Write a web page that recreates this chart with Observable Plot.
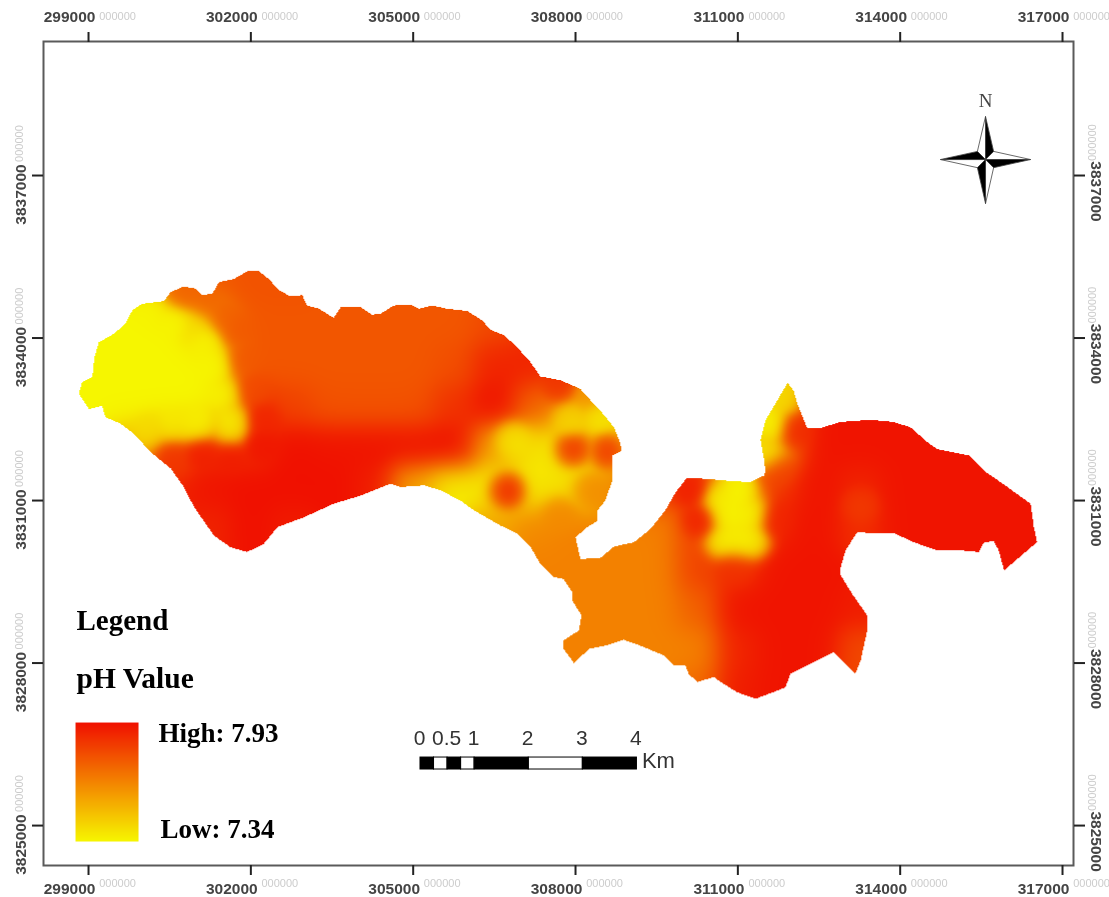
<!DOCTYPE html>
<html>
<head>
<meta charset="utf-8">
<script src="https://cdn.jsdelivr.net/npm/d3@7"></script>
<script src="https://cdn.jsdelivr.net/npm/@observablehq/plot@0.6"></script>
<style>
html,body{margin:0;padding:0;background:#fff}
svg{display:block;filter:blur(0.45px)}
</style>
</head>
<body>
<div id="chart"></div>
<script>
const eastTicks = [299000,302000,305000,308000,311000,314000,317000];
const northTicks = [3825000,3828000,3831000,3834000,3837000];
const eastExtent = [298168,317203];
const northExtent = [3824263,3839474];
const phRange = [7.34,7.93];
const rampColors = ["#f6f600","#f01000"];

// watershed outline: easting, northing (metres)
const outlineEast = [298820,298880,299070,299110,299190,299470,299680,299810,299990,300390,300520,300760,300980,301100,301290,301410,301690,301930,302150,302330,302520,302730,302950,303040,303260,303530,303660,304030,304240,304400,304640,304950,305100,305350,305630,306000,306280,306430,306680,306920,307170,307350,307720,308090,308220,308460,308710,308830,308850,308680,308680,308550,308410,308410,308220,308000,308090,308460,308710,309080,309390,309660,309850,310060,310430,310860,311230,311480,311510,311480,311420,311510,311730,311920,312030,312100,312280,312530,312900,313450,313880,314190,314500,314680,315270,315550,315980,316410,316470,316530,316280,315920,315820,315730,315550,315450,315110,314680,314250,313880,313510,313210,312990,312900,312900,313110,313390,313390,313270,313170,312770,312340,311970,311880,311330,310990,310680,310560,310250,310090,310030,309820,309630,309200,308890,308550,308250,307970,307780,307780,308060,308110,307940,307940,307780,307600,307350,307170,306920,306610,306120,305870,305500,305200,304770,304580,304030,303530,302980,302490,302240,301930,301620,301320,300950,300760,300520,300150,299840,299590,299310,299250,299010];
const outlineNorth = [3832970,3833180,3833280,3833650,3833920,3834080,3834260,3834510,3834630,3834680,3834850,3834950,3834910,3834790,3834820,3835030,3835090,3835230,3835230,3835090,3834880,3834770,3834790,3834600,3834540,3834370,3834570,3834570,3834430,3834450,3834600,3834620,3834540,3834600,3834540,3834500,3834320,3834150,3834050,3833830,3833550,3833290,3833220,3833060,3832910,3832660,3832350,3832050,3831920,3831830,3831370,3831000,3830820,3830630,3830510,3830320,3829920,3829940,3830150,3830230,3830480,3830820,3831150,3831420,3831400,3831360,3831340,3831460,3831550,3831770,3832110,3832480,3832850,3833170,3833030,3832790,3832340,3832340,3832450,3832490,3832450,3832350,3832080,3831950,3831830,3831550,3831250,3830940,3830510,3830230,3830020,3829710,3830080,3830250,3830230,3830050,3830080,3830080,3830230,3830400,3830390,3830420,3830080,3829770,3829620,3829280,3828880,3828600,3828050,3827800,3828200,3827990,3827800,3827550,3827340,3827460,3827650,3827740,3827650,3827800,3827960,3827960,3828140,3828320,3828430,3828320,3828260,3828000,3828260,3828420,3828600,3828880,3829150,3829310,3829550,3829590,3829830,3830140,3830390,3830540,3830820,3831000,3831190,3831280,3831250,3831310,3831090,3830940,3830690,3830510,3830200,3830050,3830140,3830350,3830880,3831250,3831590,3831890,3832230,3832420,3832540,3832750,3832690];

// pH at regular sample sites
const _ = null;
const sampleEast = [299000,299750,300500,301250,302000,302750,303500,304250,305000,305750,306500,307250,308000,308750,309500,310250,311000,311750,312500,313250,314000,314750,315500,316250,317000];
const sampleNorth = [3835000,3834250,3833500,3832750,3832000,3831250,3830500,3829750,3829000,3828250,3827500];
const phRows = [
 [_,_,7.70,7.74,7.76,7.76,_,_,_,_,_,_,_,_,_,_,_,_,_,_,_,_,_,_,_],
 [_,7.34,7.34,7.50,7.75,7.75,7.75,7.75,7.75,7.75,7.78,7.85,_,_,_,_,_,_,_,_,_,_,_,_,_],
 [7.34,7.34,7.34,7.34,7.75,7.75,7.75,7.75,7.75,7.77,7.88,7.88,_,_,_,_,_,_,_,_,_,_,_,_,_],
 [7.34,7.34,7.34,7.34,7.85,7.80,7.76,7.76,7.76,7.84,7.93,7.72,7.55,7.45,_,_,_,7.40,7.92,7.92,7.92,_,_,_,_],
 [_,7.50,7.70,7.85,7.85,7.93,7.92,7.92,7.92,7.93,7.55,7.38,7.40,7.42,_,_,_,7.60,7.92,7.92,7.92,7.92,7.92,_,_],
 [_,_,7.88,7.92,7.93,7.93,7.93,7.90,7.55,7.36,7.38,7.38,7.40,7.64,7.85,7.82,7.36,7.85,7.92,7.88,7.92,7.92,7.92,7.92,_],
 [_,_,_,7.88,7.93,7.90,_,_,_,_,7.55,7.62,7.64,_,7.64,7.80,7.34,7.90,7.92,7.85,7.92,7.92,7.92,7.92,7.92],
 [_,_,_,_,_,_,_,_,_,_,_,7.64,7.64,7.64,7.64,7.80,7.85,7.92,7.92,_,_,_,_,_,_],
 [_,_,_,_,_,_,_,_,_,_,_,_,7.64,7.64,7.64,7.72,7.92,7.92,7.92,7.90,_,_,_,_,_],
 [_,_,_,_,_,_,_,_,_,_,_,_,7.64,7.64,7.64,7.64,7.88,7.92,7.92,7.78,_,_,_,_,_],
 [_,_,_,_,_,_,_,_,_,_,_,_,_,_,_,7.70,7.90,7.92,_,7.80,_,_,_,_,_]
];
// extra readings at local features (spots, yellow strip, zone edges)
const spotEast = [306743,307963,308590,310770,311270,311010,311010,311600,311530,311860,312070,310310,310130,301620,300880,300110,300150,
 301160,301350,301530,301660,301070,300520,300610,300980,
 301720,301850,302030,302220,302180,301620,301070,300550,300790,301160,301480,
 306840,308460,307910,307720,308280,308280,307720,
 310960,311700,311700,313270,
 310720,311270,310640];
const spotNorth = [3831185,3831960,3831920,3830720,3830720,3830170,3831190,3832385,3831830,3832940,3832290,3830630,3831190,3832290,3832385,3832290,3834510,
 3833950,3833490,3832940,3832480,3832385,3832385,3834320,3834230,
 3834140,3833590,3833030,3832480,3832020,3831830,3831890,3831780,3834770,3834600,3834360,
 3832110,3832570,3832480,3833120,3832940,3831190,3830720,
 3829800,3830630,3831550,3830910,
 3830260,3830260,3831000];
const spotPh = [7.93,7.90,7.88,7.34,7.34,7.34,7.34,7.34,7.36,7.42,7.88,7.90,7.90,7.36,7.36,7.40,7.34,
 7.34,7.34,7.34,7.34,7.34,7.36,7.34,7.40,
 7.75,7.75,7.78,7.88,7.92,7.90,7.90,7.85,7.72,7.72,7.74,
 7.38,7.38,7.42,7.85,7.60,7.62,7.62,
 7.85,7.88,7.80,7.82,
 7.34,7.34,7.34];

// scale bar (km along a true map scale)
const barStartEast = 305135;
const barNorth = [3826035,3826256];
const barLabelNorth = 3826616;
const barBlack = [[0,0.25],[0.5,0.75],[1,2],[3,4]];
const barWhite = [[0.25,0.5],[0.75,1],[2,3]];
const barKm = [0,0.5,1,2,3,4];

// colour ramp legend
const rampEast = [298760,299924];
const rampNorth = [3824706,3826902];

// compass: centre and facets as offsets in metres
const compassCentre = [315577,3837295];
const facetsBlack = [
 [[0,0],[0,794],[150,150]],
 [[0,0],[0,-812],[-150,-150]],
 [[0,0],[-832,0],[-150,150]],
 [[0,0],[832,0],[150,-150]]
];
const facetsWhite = [
 [[0,0],[0,794],[-150,150]],
 [[0,0],[0,-812],[150,-150]],
 [[0,0],[-832,0],[-150,-150]],
 [[0,0],[832,0],[150,150]]
];

const outline = outlineEast.map((e,i)=>[e,outlineNorth[i]]);
const samples = [];
phRows.forEach((row,r)=>row.forEach((v,c)=>{ if(v!==null) samples.push([sampleEast[c],sampleNorth[r],v,1,1/(2*330*330)]); }));
spotPh.forEach((v,i)=>samples.push([spotEast[i],spotNorth[i],v,4,1/(2*170*170)]));

function phAt(x,y){
  if(!d3.polygonContains(outline,[x,y])) return NaN;
  let sw=0,sv=0;
  for(const s of samples){
    const dx=x-s[0],dy=y-s[1];
    const w=s[3]*Math.exp(-(dx*dx+dy*dy)*s[4]);
    sw+=w; sv+=w*s[2];
  }
  return sw>0?sv/sw:phRange[1];
}
const facetMark=(list,color)=>Plot.line(
  list.flatMap((f,k)=>[...f,f[0]].map(p=>({e:compassCentre[0]+p[0],n:compassCentre[1]+p[1],k}))),
  {x:"e",y:"n",z:"k",fill:color,stroke:"#444",strokeWidth:0.8,curve:"linear"});

const serif="Liberation Serif";
const sans="Liberation Sans";
const mid={textAnchor:"middle",lineAnchor:"middle"};
const startMid={textAnchor:"start",lineAnchor:"middle"};
const tickLabel={fontSize:15.5,fontWeight:"bold",fill:"#444",...mid};
const faintLabel={fontSize:11,fill:"#ccc",...mid};
const legendLabel={frameAnchor:"top-left",fontFamily:serif,fontWeight:"bold",fontSize:27,fill:"#000",...startMid};
const chart=Plot.plot({
  width:1109,height:897,
  marginTop:41,marginBottom:32,marginLeft:43,marginRight:36,
  style:{background:"#fff",fontFamily:sans},
  x:{domain:eastExtent,axis:null},
  y:{domain:northExtent,axis:null},
  color:{type:"linear",domain:phRange,range:rampColors},
  marks:[
    Plot.raster({x1:298700,x2:316700,y1:3827200,y2:3835350,fill:phAt,pixelSize:1}),
    Plot.raster({x1:rampEast[0],x2:rampEast[1],y1:rampNorth[0],y2:rampNorth[1],
      fill:(x,y)=>phRange[0]+(y-rampNorth[0])/(rampNorth[1]-rampNorth[0])*(phRange[1]-phRange[0])}),
    Plot.frame({stroke:"#5a5a5a",strokeWidth:2}),
    Plot.axisX(eastTicks,{anchor:"top",tickSize:10,fill:"none",stroke:"#222",strokeWidth:2}),
    Plot.axisX(eastTicks,{anchor:"bottom",tickSize:10,fill:"none",stroke:"#222",strokeWidth:2}),
    Plot.axisY(northTicks,{anchor:"left",tickSize:11,fill:"none",stroke:"#222",strokeWidth:2}),
    Plot.axisY(northTicks,{anchor:"right",tickSize:11,fill:"none",stroke:"#222",strokeWidth:2}),
    // tick labels
    Plot.text(eastTicks,{x:d=>d,text:d=>String(d),frameAnchor:"top",dy:-24,dx:-19,...tickLabel}),
    Plot.text(eastTicks,{x:d=>d,text:d=>String(d),frameAnchor:"bottom",dy:24,dx:-19,...tickLabel}),
    Plot.text(northTicks,{y:d=>d,text:d=>String(d),frameAnchor:"left",dx:-22,dy:19,rotate:-90,...tickLabel}),
    Plot.text(northTicks,{y:d=>d,text:d=>String(d),frameAnchor:"right",dx:22,dy:16,rotate:90,...tickLabel}),
    // faint trailing digits
    Plot.text(eastTicks,{x:d=>d,text:()=>"000000",frameAnchor:"top",dy:-25,dx:29,...faintLabel}),
    Plot.text(eastTicks,{x:d=>d,text:()=>"000000",frameAnchor:"bottom",dy:18,dx:29,...faintLabel}),
    Plot.text(northTicks,{y:d=>d,text:()=>"000000",frameAnchor:"left",dx:-24,dy:-32,rotate:-90,...faintLabel}),
    Plot.text(northTicks,{y:d=>d,text:()=>"000000",frameAnchor:"right",dx:18,dy:-33,rotate:90,...faintLabel}),
    // legend text
    Plot.text(["Legend"],{dx:33,dy:579,...legendLabel,fontSize:29}),
    Plot.text(["pH Value"],{dx:33,dy:637,...legendLabel,fontSize:29.5}),
    Plot.text(["High: 7.93"],{dx:115,dy:692,...legendLabel}),
    Plot.text(["Low: 7.34"],{dx:117,dy:788,...legendLabel}),
    // scale bar
    Plot.rect(barWhite,{x1:d=>barStartEast+d[0]*1000,x2:d=>barStartEast+d[1]*1000,y1:barNorth[0],y2:barNorth[1],fill:"#fff",stroke:"#000",strokeWidth:1}),
    Plot.rect(barBlack,{x1:d=>barStartEast+d[0]*1000,x2:d=>barStartEast+d[1]*1000,y1:barNorth[0],y2:barNorth[1],fill:"#000",stroke:"#000",strokeWidth:1}),
    Plot.text(barKm,{x:d=>barStartEast+d*1000,y:barLabelNorth,dx:-1,text:d=>String(d),fontSize:21,fill:"#333"}),
    Plot.text(["Km"],{x:barStartEast+4000,y:(barNorth[0]+barNorth[1])/2,dx:5,dy:-3,textAnchor:"start",fontSize:22,fill:"#333"}),
    // north arrow
    facetMark(facetsWhite,"#fff"),
    facetMark(facetsBlack,"#000"),
    Plot.text(["N"],{x:compassCentre[0],y:compassCentre[1]+1090,fontFamily:serif,fontSize:19,fill:"#444"})
  ]
});
document.getElementById("chart").appendChild(chart);
</script>
</body>
</html>
